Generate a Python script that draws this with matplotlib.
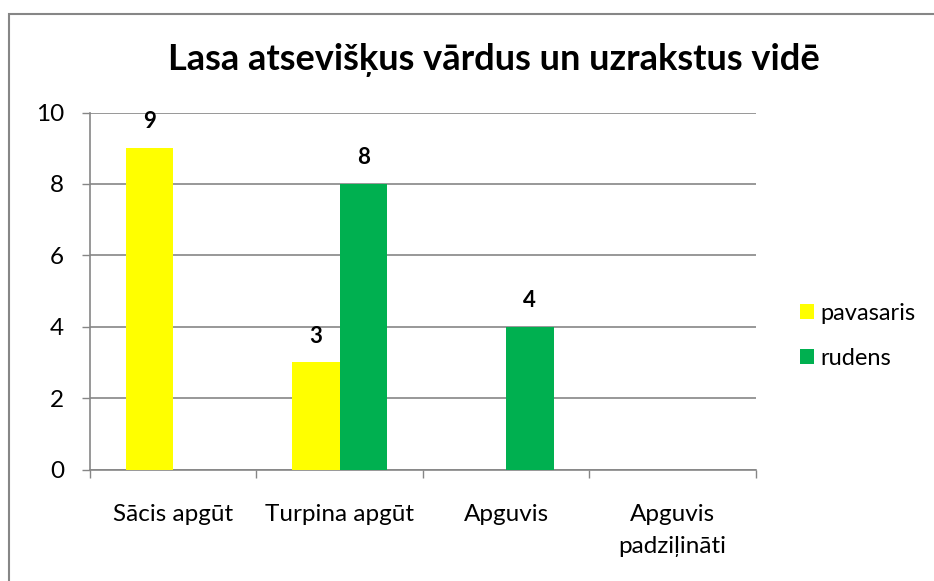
import matplotlib
matplotlib.use("Agg")
import matplotlib.pyplot as plt
from matplotlib.patches import Rectangle
import numpy as np

plt.rcParams['font.family'] = ['Lato', 'DejaVu Sans']

title = "Lasa atsevišķus vārdus un uzrakstus vidē"
categories = ["Sācis apgūt", "Turpina apgūt", "Apguvis", "Apguvis\npadziļināti"]
series_names = ["pavasaris", "rudens"]
pavasaris = [9, 3, 0, 0]
rudens = [0, 8, 4, 0]
yticks = [0, 2, 4, 6, 8, 10]
colors = ["#FFFF00", "#00B050"]

W, H = 934, 581
fig = plt.figure(figsize=(W / 100, H / 100), dpi=100)
fig.patch.set_facecolor("white")

# outer chart border (cropped at right/bottom)
fig.patches.append(Rectangle((8.5 / W, 1 - 590 / H), (940 - 8.5) / W, (590 - 13.5) / H,
                             transform=fig.transFigure, fill=False,
                             edgecolor="#868686", linewidth=1.5, clip_on=False))

x0, x1 = 90, 755.6
ytop, ybot = 112.5, 469.5
ax = fig.add_axes([x0 / W, 1 - ybot / H, (x1 - x0) / W, (ybot - ytop) / H])

n = len(categories)
x = np.arange(n)
bw = 1 / 3.5
gray = "#868686"
for i, (vals, name) in enumerate(zip([pavasaris, rudens], series_names)):
    pos = x + (i - 0.5) * bw
    ax.bar(pos, vals, width=bw, color=colors[i], label=name, zorder=3)
    for p, v in zip(pos, vals):
        if v:
            ax.annotate(str(v), (p, v), xytext=(0, 19), textcoords="offset points",
                        ha="center", va="center", fontsize=16, fontweight="bold")

ax.set_xlim(-0.5, n - 0.5)
ax.set_ylim(0, 10)
ax.set_yticks(yticks)
ax.tick_params(axis="y", length=5.8, color=gray, width=1, labelsize=17.5, pad=13)
ax.yaxis.grid(True, color=gray, linewidth=1.2, zorder=0)
ax.set_axisbelow(True)

ax.set_xticks(np.arange(n + 1) - 0.5)
ax.set_xticklabels([])
ax.tick_params(axis="x", which="major", direction="out", length=5.8, color=gray, width=1)
ax.set_xticks(x, minor=True)
ax.set_xticklabels(categories, minor=True, fontsize=17.5, linespacing=1.65)
ax.tick_params(axis="x", which="minor", length=0, pad=25)
for lbl in ax.get_xticklabels(minor=True):
    lbl.set_va("top")

for s in ["top", "right"]:
    ax.spines[s].set_visible(False)
for s in ["left", "bottom"]:
    ax.spines[s].set_color(gray)
    ax.spines[s].set_linewidth(1.2)

fig.text(494 / W, 1 - 60 / H, title, ha="center", va="center",
         fontsize=26, fontweight="bold")

leg = fig.legend(loc="center left", bbox_to_anchor=(779 / W, 1 - 336 / H), frameon=False,
                 fontsize=17, handlelength=0.6, handleheight=0.6, handletextpad=0.25,
                 labelspacing=1.0)

fig.savefig("out.png", dpi=100, facecolor="white")
